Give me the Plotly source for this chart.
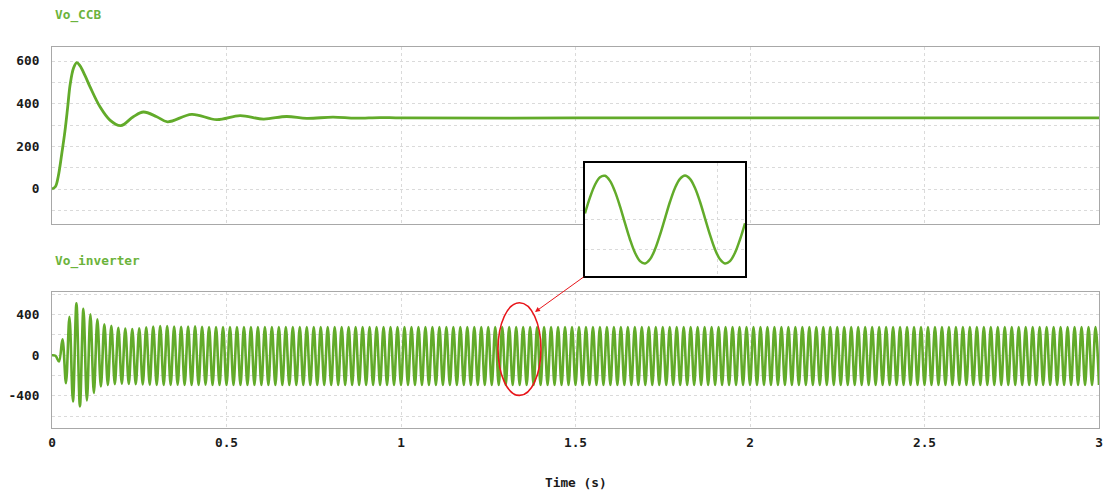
import plotly.graph_objects as go

GREEN = '#62ab2a'
TXT_GREEN = '#6cb33c'
GRID = '#dadada'
BORDER = '#a8a8a8'
FONT = 'DejaVu Sans Mono'

# ---------------- data ----------------
# Vo_CCB (top panel), key points of the damped response
ccb_time = [0.0, 0.01, 0.018, 0.028, 0.037, 0.045, 0.052, 0.062, 0.071, 0.08,
            0.095, 0.109, 0.138, 0.166, 0.197, 0.233, 0.262, 0.30, 0.331, 0.40,
            0.472, 0.539, 0.606, 0.672, 0.73, 0.805, 0.87, 0.94, 1.0, 1.5,
            2.0, 2.5, 3.0]
ccb_volt = [0, 12, 60, 165, 270, 385, 490, 568, 592, 578,
            530, 479, 384, 323, 297, 339, 361, 339, 315, 350,
            325, 344, 328, 340, 331, 337, 332, 335, 333, 333,
            333, 333, 333]

# Vo_inverter (bottom panel): successive half-cycle extremes, one every 10 ms
inv_step = 0.01
inv_transient = [0, -5, -62, 157, -274, 379, -454, 510, -503, 457,
                 -444, 402, -372, 353, -307, 305, -292, 290, -285, 270,
                 -280, 262, -283, 258, -285, 265, -288, 275, -290, 283,
                 -292, 288, -293, 286, -292, 282, -290, 280, -292, 282,
                 -293, 284, -292, 280, -291, 278]
inv_steady = [
    -292, 278, -292, 278, -292, 278, -292, 278, -292, 278, -292, 278, -292, 278, -292, 278,
    -292, 278, -292, 278, -292, 278, -292, 278, -292, 278, -292, 278, -292, 278, -292, 278,
    -292, 278, -292, 278, -292, 278, -292, 278, -292, 278, -292, 278, -292, 278, -292, 278,
    -292, 278, -292, 278, -292, 278, -292, 278, -292, 278, -292, 278, -292, 278, -292, 278,
    -292, 278, -292, 278, -292, 278, -292, 278, -292, 278, -292, 278, -292, 278, -292, 278,
    -292, 278, -292, 278, -292, 278, -292, 278, -292, 278, -292, 278, -292, 278, -292, 278,
    -292, 278, -292, 278, -292, 278, -292, 278, -292, 278, -292, 278, -292, 278, -292, 278,
    -292, 278, -292, 278, -292, 278, -292, 278, -292, 278, -292, 278, -292, 278, -292, 278,
    -292, 278, -292, 278, -292, 278, -292, 278, -292, 278, -292, 278, -292, 278, -292, 278,
    -292, 278, -292, 278, -292, 278, -292, 278, -292, 278, -292, 278, -292, 278, -292, 278,
    -292, 278, -292, 278, -292, 278, -292, 278, -292, 278, -292, 278, -292, 278, -292, 278,
    -292, 278, -292, 278, -292, 278, -292, 278, -292, 278, -292, 278, -292, 278, -292, 278,
    -292, 278, -292, 278, -292, 278, -292, 278, -292, 278, -292, 278, -292, 278, -292, 278,
    -292, 278, -292, 278, -292, 278, -292, 278, -292, 278, -292, 278, -292, 278, -292, 278,
    -292, 278, -292, 278, -292, 278, -292, 278, -292, 278, -292, 278, -292, 278, -292, 278,
    -292, 278, -292, 278, -292, 278, -292, 278, -292, 278, -292, 278, -292, 278, -292,
]
inv_volt = inv_transient + inv_steady
inv_time = [round(k * inv_step, 4) for k in range(len(inv_volt))]

# zoomed inset: two cycles of the steady-state output
inset_start = 1.300
inset_step = 0.001228
inset_volt = [41, 148, 233, 284, 293, 259, 187, 88, -25, -134,
              -223, -279, -295, -267, -200, -103, 8, 119, 212, 273,
              295, 273, 211, 119, 8, -103, -200, -267, -295, -279,
              -223, -134, -25]
inset_time = [inset_start + i * inset_step for i in range(len(inset_volt))]
inset_grid_x = [1.3325]
inset_grid_y = [-200, 0]

x_ticks = [0, 0.5, 1, 1.5, 2, 2.5, 3]
x_tick_text = ['0', '0.5', '1', '1.5', '2', '2.5', '3']
ccb_ticks = [0, 200, 400, 600]
ccb_tick_text = ['0', '200', '400', '600']
inv_ticks = [-400, 0, 400]
inv_tick_text = ['-400', '0', '400']

# ---------------- figure ----------------
fig = go.Figure()
fig.add_trace(go.Scatter(x=ccb_time, y=ccb_volt, mode='lines',
                         line=dict(color=GREEN, width=2.8, shape='spline', smoothing=1.0),
                         xaxis='x', yaxis='y', hoverinfo='skip'))
fig.add_trace(go.Scatter(x=inv_time, y=inv_volt, mode='lines',
                         line=dict(color=GREEN, width=2.6, shape='spline', smoothing=1.0),
                         xaxis='x2', yaxis='y2', hoverinfo='skip'))
fig.add_trace(go.Scatter(x=inset_time, y=inset_volt, mode='lines',
                         line=dict(color=GREEN, width=2.5, shape='spline', smoothing=1.0),
                         xaxis='x3', yaxis='y3', hoverinfo='skip'))

tickfont = dict(family=FONT, size=12.8, color='#1a1a1a', weight='bold')
common = dict(showgrid=True, gridcolor=GRID, griddash='dot', gridwidth=1,
              zeroline=False, showline=True, linecolor=BORDER, linewidth=1,
              mirror=True, ticks='', fixedrange=True, automargin=False)

xdom = [52 / 1104, 1099 / 1104]

fig.update_layout(
    width=1104, height=492,
    margin=dict(l=0, r=0, t=0, b=0, pad=0, autoexpand=False),
    paper_bgcolor='white', plot_bgcolor='white',
    showlegend=False,
    xaxis=dict(domain=xdom, range=[0, 3], tickvals=x_ticks, showticklabels=False,
               anchor='y', **common),
    yaxis=dict(domain=[1 - 224 / 492, 1 - 46.5 / 492], range=[-164, 668],
               tickvals=ccb_ticks, ticktext=ccb_tick_text,
               minor=dict(dtick=100, tick0=0, showgrid=True, gridcolor=GRID,
                          griddash='dot', ticks=''),
               tickfont=tickfont, ticklabelstandoff=9, anchor='x', **common),
    xaxis2=dict(domain=xdom, range=[0, 3], tickvals=x_ticks, ticktext=x_tick_text,
                tickfont=tickfont, ticklabelstandoff=3, anchor='y2', **common),
    yaxis2=dict(domain=[1 - 428 / 492, 1 - 291.5 / 492], range=[-716, 627],
                tickvals=inv_ticks, ticktext=inv_tick_text,
                minor=dict(dtick=200, tick0=0, showgrid=True, gridcolor=GRID,
                           griddash='dot', ticks=''),
                tickfont=tickfont, ticklabelstandoff=9, anchor='x2', **common),
    xaxis3=dict(domain=[585 / 1104, 745 / 1104], range=[inset_time[0], inset_time[-1]],
                tickvals=inset_grid_x, showticklabels=False, anchor='y3',
                showgrid=True, gridcolor=GRID, griddash='dot', zeroline=False,
                showline=True, linecolor='black', linewidth=2, mirror=True,
                ticks='', fixedrange=True),
    yaxis3=dict(domain=[1 - 276 / 492, 1 - 163 / 492], range=[-379, 379],
                tickvals=inset_grid_y, showticklabels=False, anchor='x3',
                showgrid=True, gridcolor=GRID, griddash='dot', zeroline=False,
                showline=True, linecolor='black', linewidth=2, mirror=True,
                ticks='', fixedrange=True),
)

title_font = dict(family=FONT, size=12.8, color=TXT_GREEN, weight='bold')
fig.add_annotation(text='Vo_CCB', xref='paper', yref='paper', x=53 / 1104, y=1 - 15 / 492,
                   xanchor='left', yanchor='middle', showarrow=False, font=title_font)
fig.add_annotation(text='Vo_inverter', xref='paper', yref='paper', x=53 / 1104,
                   y=1 - 260.7 / 492, xanchor='left', yanchor='middle', showarrow=False,
                   font=title_font)
fig.add_annotation(text='Time (s)', xref='paper', yref='paper', x=(xdom[0] + xdom[1]) / 2,
                   y=1 - 482.7 / 492, xanchor='center', yanchor='middle', showarrow=False,
                   font=dict(family=FONT, size=12.8, color='#1a1a1a', weight='bold'))

# red ellipse around the zoomed region and arrow to the inset
fig.add_shape(type='circle', xref='x2', yref='y2', x0=1.278, x1=1.401, y0=-395, y1=517,
              line=dict(color='#e8161b', width=1.6), fillcolor='rgba(0,0,0,0)')
fig.add_annotation(text='', xref='paper', yref='paper', x=535 / 1104, y=1 - 312 / 492,
                   ax=50, ay=-36, showarrow=True, arrowhead=2, arrowsize=1,
                   arrowwidth=1, arrowcolor='#e8161b', standoff=0)

fig.write_html('out.html')
